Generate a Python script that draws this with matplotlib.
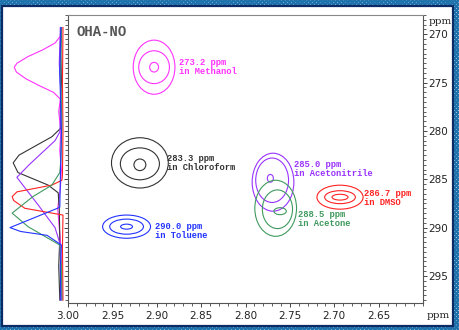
import matplotlib
matplotlib.use("Agg")
import matplotlib.pyplot as plt
from matplotlib.patches import Ellipse, Rectangle
from matplotlib.ticker import MultipleLocator

# ── peak data (1H ppm, 15N ppm) per solvent ──
solvents = ["Methanol", "Chloroform", "Acetonitrile", "DMSO", "Acetone", "Toluene"]
n15_ppm = [273.2, 283.3, 285.0, 286.7, 288.5, 290.0]
colors = ["#ff33ff", "#333333", "#9933ff", "#ff2222", "#3f9a5f", "#2233ff"]

# contour levels per solvent: (x centre, y centre, x half width, y half width), outer -> inner
contour_levels = {
    "Methanol": [(2.903, 273.4, 0.0235, 2.8), (2.903, 273.4, 0.0173, 1.7), (2.903, 273.4, 0.005, 0.5)],
    "Chloroform": [(2.919, 283.3, 0.032, 2.6), (2.919, 283.4, 0.022, 1.65), (2.919, 283.5, 0.0067, 0.6)],
    "Acetonitrile": [(2.769, 285.3, 0.0235, 3.0), (2.770, 285.1, 0.0185, 2.3), (2.772, 284.9, 0.0034, 0.4)],
    "DMSO": [(2.6935, 286.85, 0.026, 1.24), (2.6935, 286.85, 0.0173, 0.67), (2.6935, 286.85, 0.009, 0.3)],
    "Acetone": [(2.766, 288.0, 0.0235, 2.9), (2.764, 288.1, 0.017, 2.0), (2.761, 288.3, 0.007, 0.36)],
    "Toluene": [(2.934, 289.9, 0.027, 1.2), (2.934, 289.9, 0.019, 0.78), (2.934, 289.9, 0.0067, 0.26)],
}

# label anchor (x ppm, y ppm) for each solvent
label_x = [2.8747, 2.889, 2.745, 2.6667, 2.7405, 2.9016]
label_y = [273.36, 283.27, 283.95, 286.9, 289.06, 290.4]

# 15N projection traces (ppm, relative intensity)
proj_ppm = {
    "Methanol": [269.3, 270.2, 270.9, 271.6, 272.3, 273.0, 273.4, 273.9, 274.6, 275.3, 276.0, 276.7,
                 278.0, 280.0, 282.0, 284.0, 286.0, 288.0, 290.0, 292.0, 294.0, 296.0, 297.5],
    "Chloroform": [269.3, 272.0, 275.0, 278.0, 279.7, 280.6, 281.7, 282.5, 283.3, 284.3, 285.6, 286.4,
                   288.0, 291.0, 294.0, 297.5],
    "Acetonitrile": [269.3, 273.0, 276.0, 279.0, 280.1, 281.0, 283.5, 284.8, 287.5, 290.0, 291.6,
                     294.0, 297.5],
    "DMSO": [269.3, 275.0, 280.0, 284.5, 285.1, 285.6, 286.3, 286.8, 287.2, 288.0, 288.7, 292.0, 297.5],
    "Acetone": [269.3, 274.0, 279.0, 283.0, 284.3, 285.6, 286.8, 288.5, 289.9, 291.8, 294.0, 297.5],
    "Toluene": [269.3, 274.0, 280.0, 285.0, 287.9, 290.0, 290.4, 290.8, 291.8, 294.0, 297.5],
}
proj_int = {
    "Methanol": [0.02, 0.05, 0.15, 0.38, 0.66, 0.87, 0.92, 0.88, 0.70, 0.45, 0.18, 0.05,
                 0.08, 0.04, 0.06, 0.03, 0.05, 0.10, 0.07, 0.04, 0.03, 0.02, 0.02],
    "Chloroform": [0.03, 0.04, 0.03, 0.05, 0.04, 0.21, 0.57, 0.83, 0.94, 0.85, 0.28, 0.09,
                   0.07, 0.06, 0.08, 0.06],
    "Acetonitrile": [0.05, 0.07, 0.04, 0.05, 0.06, 0.15, 0.64, 0.87, 0.49, 0.15, 0.06,
                     0.04, 0.05],
    "DMSO": [0.0, 0.01, 0.0, 0.01, 0.02, 0.21, 0.87, 0.96, 0.93, 0.72, 0.0, 0.01, 0.0],
    "Acetone": [0.03, 0.05, 0.02, 0.04, 0.06, 0.21, 0.57, 0.96, 0.66, 0.06, 0.03, 0.02],
    "Toluene": [0.04, 0.06, 0.03, 0.05, 0.06, 1.0, 0.8, 0.3, 0.03, 0.05, 0.04],
}

x_ticks = [3.00, 2.95, 2.90, 2.85, 2.80, 2.75, 2.70, 2.65]
y_ticks = [270, 275, 280, 285, 290, 295]

W, H = 460, 330
fig = plt.figure(figsize=(W / 100, H / 100), dpi=100)
fig.patch.set_facecolor("#5f9ec8")

# checkered outer frame + navy inner border
plt.rcParams["hatch.linewidth"] = 1.5
fig.add_artist(Rectangle((0, 0), 1, 1, transform=fig.transFigure, facecolor="#ffffff",
                         edgecolor="#1f73ad", hatch="xxxxxxxx", lw=0, zorder=-3))
fig.add_artist(Rectangle((2 / W, 1 - 326 / H), 451 / W, 320 / H, transform=fig.transFigure,
                         facecolor="white", edgecolor="#0b2a66", lw=1.6, zorder=-2))

ax = fig.add_axes([68 / W, 1 - 303 / H, 355 / W, 288 / H])
axp = fig.add_axes([8 / W, 1 - 303 / H, 58 / W, 288 / H], sharey=ax)
axp.set_facecolor("none")

ylim = (297.8, 268.0)
ax.set_xlim(3.0, 2.6)
ax.set_ylim(*ylim)

for name, col in zip(solvents, colors):
    for (cx, cy, hw, hh) in contour_levels[name]:
        ax.add_patch(Ellipse((cx, cy), 2 * hw, 2 * hh, fill=False, edgecolor=col, lw=0.8))

mono = ["Liberation Mono", "DejaVu Sans Mono"]
for name, col, ppm, lx, ly in zip(solvents, colors, n15_ppm, label_x, label_y):
    ax.text(lx, ly, f"{ppm:.1f} ppm\nin {name}", color=col, fontsize=6.3, family=mono,
            fontweight="bold", ha="left", va="center", linespacing=1.0)

ax.text(0.025, 0.94, "OHA-NO", transform=ax.transAxes, fontsize=10, family=mono,
        fontweight="bold", color="#555555", ha="left", va="center")

# axes styling
for sp in ax.spines.values():
    sp.set_color("#555555")
    sp.set_linewidth(0.8)
ax.spines["top"].set_color("#888888")
ax.set_xticks(x_ticks)
ax.set_xticklabels([f"{v:.2f}" for v in x_ticks])
ax.xaxis.set_minor_locator(MultipleLocator(0.01))
ax.set_yticks(y_ticks)
ax.yaxis.set_minor_locator(MultipleLocator(0.5))
ax.tick_params(axis="y", which="both", left=True, right=True, labelleft=False, labelright=True,
               direction="out", colors="#444444", labelcolor="#222222", labelsize=7.5, pad=1)
ax.tick_params(axis="y", which="major", length=3, width=0.7)
ax.tick_params(axis="y", which="minor", length=2, width=0.6)
ax.tick_params(axis="x", which="major", length=3, width=0.7, colors="#444444",
               labelcolor="#222222", labelsize=7.5, pad=3)
ax.tick_params(axis="x", which="minor", length=2, width=0.6, colors="#444444")
ax.text(1.015, 0.979, "ppm", transform=ax.transAxes, fontsize=7.5, family="DejaVu Serif",
        color="#222222", ha="left", va="center")
ax.text(1.011, -0.045, "ppm", transform=ax.transAxes, fontsize=7.5, family="DejaVu Serif",
        color="#222222", ha="left", va="center")

# 15N projection (left)
for name, col in zip(solvents, colors):
    axp.plot(proj_int[name], proj_ppm[name], color=col, lw=0.8)
axp.set_xlim(1.038, -0.057)
axp.set_ylim(*ylim)
axp.axis("off")

fig.savefig("out.png", dpi=100)
